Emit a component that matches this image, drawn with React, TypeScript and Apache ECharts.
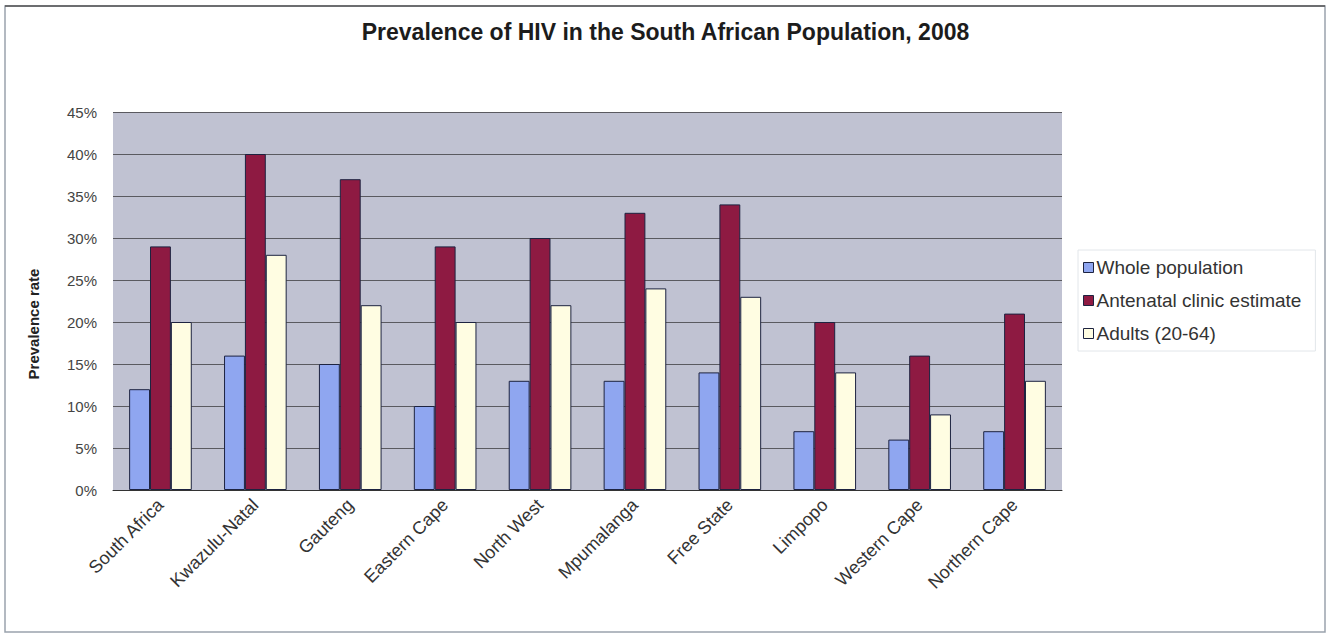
import React, { useEffect, useRef } from "react";
import * as echarts from "echarts";

const categories = [
  "South Africa",
  "Kwazulu-Natal",
  "Gauteng",
  "Eastern Cape",
  "North West",
  "Mpumalanga",
  "Free State",
  "Limpopo",
  "Western Cape",
  "Northern Cape",
];

const seriesNames = ["Whole population", "Antenatal clinic estimate", "Adults (20-64)"];

const wholePopulation = [0.12, 0.16, 0.15, 0.10, 0.13, 0.13, 0.14, 0.07, 0.06, 0.07];
const antenatalClinic = [0.29, 0.40, 0.37, 0.29, 0.30, 0.33, 0.34, 0.20, 0.16, 0.21];
const adults20to64 = [0.20, 0.28, 0.22, 0.20, 0.22, 0.24, 0.23, 0.14, 0.09, 0.13];

const seriesColors = ["#8fa6f0", "#8e1a42", "#fffde2"];

const FONT = "Liberation Sans, Arial, sans-serif";

export default function App() {
  const ref = useRef<HTMLDivElement>(null);

  useEffect(() => {
    if (!ref.current) return;
    const chart = echarts.init(ref.current, null, { renderer: "svg" });
    const values = [wholePopulation, antenatalClinic, adults20to64];

    chart.setOption({
      animation: false,
      backgroundColor: "#ffffff",
      title: {
        text: "Prevalence of HIV in the South African Population, 2008",
        left: "center",
        top: 15,
        textStyle: {
          fontFamily: FONT,
          fontSize: 23,
          fontWeight: "bold",
          color: "#1c1c1c",
        },
      },
      legend: {
        orient: "vertical",
        left: 1078,
        top: 250,
        padding: [8, 14, 8, 5],
        itemWidth: 10,
        itemHeight: 10,
        itemGap: 14,
        borderColor: "#e2e6ea",
        borderWidth: 1,
        icon: "rect",
        textStyle: { fontFamily: FONT, fontSize: 19, color: "#333", padding: [0, 0, 0, -2] },
        data: seriesNames.map((n, i) => ({
          name: n,
          itemStyle: { color: seriesColors[i], borderColor: "#1d2340", borderWidth: 1 },
        })),
      },
      grid: {
        left: 113,
        right: 269,
        top: 112,
        bottom: 148,
        show: true,
        backgroundColor: "#c0c2d2",
        borderWidth: 0,
      },
      xAxis: {
        type: "category",
        data: categories,
        axisTick: { show: false },
        axisLine: { lineStyle: { color: "#333", width: 1 } },
        axisLabel: {
          interval: 0,
          rotate: 45,
          margin: 12,
          fontFamily: FONT,
          fontSize: 18,
          color: "#333",
        },
      },
      yAxis: {
        type: "value",
        min: 0,
        max: 0.45,
        interval: 0.05,
        name: "Prevalence rate",
        nameLocation: "middle",
        nameRotate: 90,
        nameGap: 72,
        nameTextStyle: {
          fontFamily: FONT,
          fontSize: 15,
          fontWeight: "bold",
          color: "#222",
          padding: [0, 46, 0, 0],
        },
        axisLine: { show: false },
        axisTick: { show: false },
        axisLabel: {
          margin: 16,
          fontFamily: FONT,
          fontSize: 15,
          color: "#444",
          formatter: (v: number) => `${Math.round(v * 100)}%`,
        },
        splitLine: { lineStyle: { color: "#5a5a60", width: 1 } },
      },
      series: seriesNames.map((name, i) => ({
        name,
        type: "bar",
        data: values[i],
        barGap: "0%",
        barCategoryGap: "34%",
        itemStyle: { color: seriesColors[i], borderColor: "#1d2340", borderWidth: 1 },
      })),
      graphic: [
        {
          type: "rect",
          shape: { x: 5, y: 6, width: 1320, height: 626 },
          style: { fill: "none", stroke: "#9aa3ad", lineWidth: 1.5 },
          silent: true,
          z: -1,
        },
        {
          type: "line",
          shape: { x1: 5, y1: 6, x2: 1325, y2: 6 },
          style: { stroke: "#555", lineWidth: 1.5 },
          silent: true,
        },
      ],
    });

    return () => chart.dispose();
  }, []);

  return (
    <div
      ref={ref}
      style={{ position: "fixed", left: 0, top: 0, width: 1331, height: 638 }}
    />
  );
}
